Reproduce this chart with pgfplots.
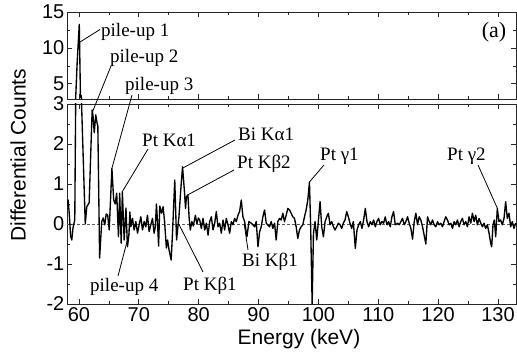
\documentclass[border=0pt]{standalone}
\usepackage{pgfplots}
\pgfplotsset{compat=1.18}
\usepackage{pgfplotstable}
\usepackage{fontspec}
\setmainfont{Liberation Serif}
\setsansfont{Liberation Sans}

\pgfplotstableread{
x y
58.00 0.45
58.20 0.60
58.40 0.20
58.60 -0.30
58.80 -0.40
59.00 -0.10
59.30 0.10
59.70 8.00
60.05 13.30
60.25 3.10
60.35 3.40
61.05 0.00
61.30 0.43
61.70 0.53
62.20 2.85
62.35 2.70
62.55 2.28
62.80 2.73
63.05 2.50
63.15 2.45
63.45 -0.85
63.80 0.06
64.05 0.15
64.30 -0.02
64.55 0.25
64.80 0.22
65.05 -0.15
65.50 1.39
65.80 0.60
66.05 0.50
66.30 0.77
66.60 -0.32
66.80 0.77
67.05 -0.48
67.25 0.80
67.55 -0.40
67.85 0.40
68.10 -0.57
68.35 -0.25
68.50 0.30
68.67 -0.07
68.94 0.14
69.22 -0.15
69.50 0.06
69.78 -0.23
70.05 -0.02
70.33 0.18
70.61 -0.15
70.89 0.06
71.17 -0.07
71.44 0.22
71.72 -0.19
72.00 -0.02
72.28 0.14
72.55 -0.23
72.75 -0.07
72.94 0.50
73.10 0.10
73.30 -0.55
73.50 0.45
73.80 0.27
74.05 0.43
74.30 0.06
74.60 -0.60
74.80 -0.40
75.05 -0.65
75.40 -0.90
75.60 -0.30
76.00 1.10
76.30 -0.40
76.50 -0.10
76.70 0.18
77.00 0.85
77.30 1.43
77.60 0.85
77.80 0.39
77.95 0.68
78.20 0.73
78.40 0.15
78.60 -0.15
78.85 0.06
79.10 -0.05
79.45 0.22
79.70 0.00
79.95 0.15
80.17 0.10
80.44 -0.11
80.72 0.14
81.00 -0.15
81.28 0.02
81.56 -0.28
81.83 0.06
82.11 0.18
82.39 -0.15
82.67 0.02
82.94 0.31
83.22 -0.07
83.50 0.02
83.78 -0.23
84.06 0.10
84.33 -0.15
84.61 0.14
84.89 -0.02
85.17 -0.23
85.44 0.06
85.72 -0.02
86.00 0.14
86.28 0.06
86.56 0.22
86.83 0.31
87.11 0.60
87.39 0.18
87.67 0.06
88.06 -0.32
88.39 0.06
88.78 0.02
89.06 -0.02
89.33 -0.07
89.61 0.06
89.90 -0.57
90.17 -0.20
90.44 -0.07
90.72 0.18
91.00 0.35
91.28 0.02
91.83 -0.07
92.11 0.06
92.39 -0.11
92.67 0.02
92.94 -0.40
93.22 0.06
93.50 0.14
93.78 0.10
94.05 0.27
94.33 0.06
94.61 0.22
94.89 0.39
95.17 0.35
95.44 0.27
95.72 0.18
96.00 0.14
96.28 -0.07
96.55 -0.36
96.83 -0.15
97.11 -0.07
97.39 -0.02
97.67 0.18
97.94 0.35
98.22 0.60
98.50 1.05
98.70 -0.05
98.95 -2.00
99.17 -0.23
99.44 0.06
99.72 -0.40
100.05 0.18
100.27 0.56
100.55 -0.07
100.83 -0.32
101.11 0.06
101.39 0.18
101.66 0.27
101.94 -0.02
102.22 0.06
102.50 -0.07
102.77 -0.15
103.05 -0.07
103.33 0.02
103.61 -0.02
103.89 -0.11
104.16 0.02
104.44 0.10
104.72 0.31
105.00 0.18
105.27 0.02
105.55 -0.11
105.83 0.06
106.16 -0.61
106.44 -0.15
106.72 -0.02
107.00 0.06
107.27 -0.11
107.55 0.10
107.83 0.39
108.11 0.06
108.39 -0.07
108.66 0.06
108.94 -0.02
109.22 0.10
109.50 -0.07
109.77 0.06
110.05 0.14
110.33 -0.02
110.61 0.06
110.89 0.02
111.16 0.18
111.44 -0.02
111.72 0.06
112.00 -0.07
112.27 0.18
112.55 0.31
112.83 -0.02
113.22 0.02
113.50 -0.02
113.77 0.06
114.05 0.14
114.33 -0.02
114.61 0.06
114.89 0.18
115.16 0.02
115.44 -0.11
115.72 -0.38
116.00 0.06
116.27 0.27
116.55 -0.02
116.83 0.18
117.11 0.10
117.39 -0.07
117.66 -0.28
117.94 -0.50
118.22 0.18
118.50 0.06
118.77 -0.02
119.05 0.10
119.33 -0.02
119.61 -0.07
119.89 0.06
120.16 -0.02
120.44 0.02
120.72 -0.07
121.00 0.06
121.27 0.18
121.55 0.10
121.83 -0.02
122.11 0.02
122.39 -0.11
122.66 0.06
122.94 -0.02
123.22 0.10
123.50 -0.07
123.77 0.06
124.05 0.14
124.33 -0.02
124.61 0.06
124.89 -0.07
125.16 0.18
125.44 0.02
125.72 0.27
126.00 0.06
126.27 0.22
126.55 -0.02
126.83 0.14
127.11 0.02
127.39 -0.07
127.66 0.02
127.94 -0.11
128.22 -0.02
128.50 -0.23
128.77 -0.48
128.94 -0.57
129.16 -0.02
129.38 0.10
129.61 -0.32
129.88 0.39
130.16 0.06
130.44 0.10
130.72 -0.02
131.00 0.14
131.27 0.56
131.55 0.14
131.83 0.27
132.11 -0.07
132.38 0.06
132.66 -0.11
132.94 0.02
}\spec

\pgfplotsset{
  panel/.style={
    scale only axis, width=449pt,
    xmin=58, xmax=133,
    xtick={60,70,...,130}, minor x tick num=1,
    tick align=inside, tick pos=both,
    axis line style={line width=0.9pt, black!85},
    major tick length=5pt, minor tick length=3pt,
    every tick/.append style={line width=0.8pt, black!85},
    tick label style={font=\sffamily\fontsize{20}{24}\selectfont},
    /pgf/number format/assume math mode=true,
    yticklabel style={inner xsep=2.5pt},
    anchor=south west,
  },
  specline/.style={line width=1.35pt, black, line join=round},
}

\begin{document}
\begin{tikzpicture}[x=1pt,y=1pt]
\begin{axis}[panel, at={(67pt,259pt)}, height=87pt,
  ymin=2.9, ymax=15, ytick={5,10,15}, minor y tick num=1,
  xticklabels={}]
  \addplot[specline] table[x=x,y=y] {\spec};
\end{axis}
\begin{axis}[panel, at={(67pt,54pt)}, height=200pt,
  ymin=-2, ymax=3, ytick={-2,-1,0,1,2,3}, minor y tick num=1]
  \addplot[densely dashed, black!65, line width=0.9pt] coordinates {(58,0) (133,0)};
  \addplot[specline] table[x=x,y=y] {\spec};
  \coordinate (tp2) at (axis cs:62.25,2.8);
  \coordinate (tp3) at (axis cs:65.5,1.39);
  \coordinate (tka1) at (axis cs:67.2,0.8);
  \coordinate (tbka1) at (axis cs:77.35,1.4);
  \coordinate (tkb2) at (axis cs:78.2,0.73);
  \coordinate (tg1) at (axis cs:98.5,1.05);
  \coordinate (tg2) at (axis cs:129.9,0.39);
  \coordinate (tbkb1) at (axis cs:87.6,0.0);
  \coordinate (tkb1) at (axis cs:76.67,0.0);
  \coordinate (tp4) at (axis cs:68.4,-0.23);
\end{axis}
\begin{scope}[x=1pt,y=-1pt,shift={(0pt,358pt)},
   every node/.style={font=\fontsize{19}{22}\selectfont, inner sep=0pt}]
  \draw[line width=0.8pt] (100,29.5) -- (78.5,43);
  \node[anchor=west] at (101,32) {pile-up 1};
  \draw[line width=0.8pt] (111,66) -- (tp2);
  \node[anchor=west] at (110,58) {pile-up 2};
  \draw[line width=0.8pt] (132,95) -- (tp3);
  \node[anchor=west] at (125,86) {pile-up 3};
  \draw[line width=0.8pt] (148,149) -- (tka1);
  \node[anchor=west] at (142,140) {Pt Kα1};
  \draw[line width=0.8pt] (235,140) -- (tbka1);
  \node[anchor=west] at (238,134) {Bi Kα1};
  \draw[line width=0.8pt] (234,170) -- (tkb2);
  \node[anchor=west] at (237,164) {Pt Kβ2};
  \draw[line width=0.8pt] (324,165) -- (tg1);
  \node[anchor=west] at (320,156) {Pt γ1};
  \draw[line width=0.8pt] (478,165) -- (tg2);
  \node[anchor=west] at (447,156) {Pt γ2};
  \draw[line width=0.8pt] (248,250) -- (tbkb1);
  \node[anchor=west] at (242,262) {Bi Kβ1};
  \draw[line width=0.8pt] (203,272) -- (tkb1);
  \node[anchor=west] at (183,286) {Pt Kβ1};
  \draw[line width=0.8pt] (118,276) -- (tp4);
  \node[anchor=west] at (90,287) {pile-up 4};
  \node[font=\fontsize{22}{26}\selectfont] at (494,32) {(a)};
  \node[font=\sffamily\fontsize{21}{25}\selectfont, rotate=90] at (18,155) {Differential Counts};
  \node[font=\sffamily\fontsize{21}{25}\selectfont, anchor=base] at (299,345) {Energy (keV)};
\end{scope}
\pgfresetboundingbox
\path (0pt,0pt) rectangle (517pt,358pt);
\end{tikzpicture}
\end{document}
